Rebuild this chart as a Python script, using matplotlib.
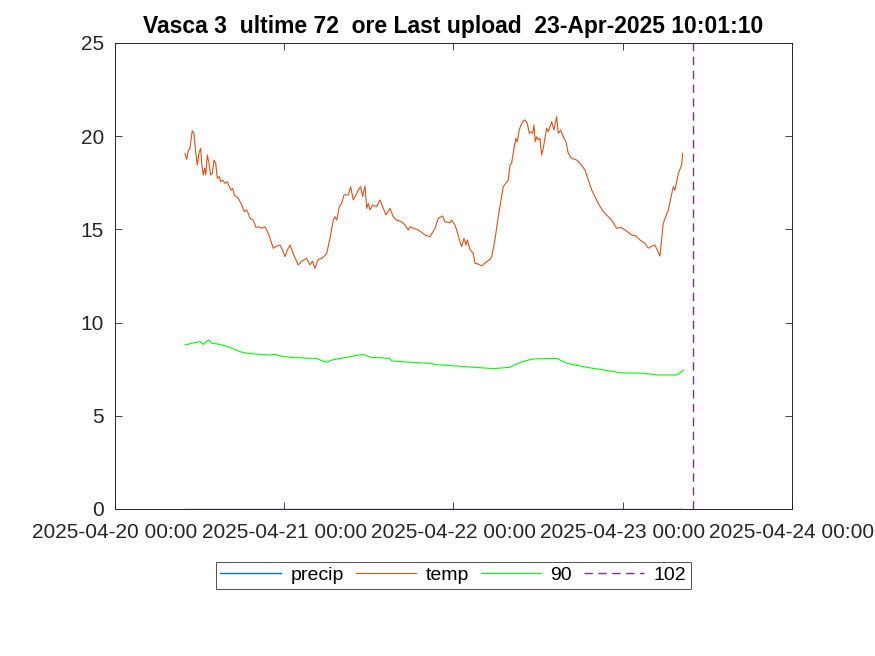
import numpy as np
import pandas as pd
import matplotlib
matplotlib.use('Agg')
from matplotlib import pyplot as plt
import matplotlib.dates as mdates

# ore dall'inizio del 2025-04-20 00:00
start = pd.Timestamp('2025-04-20 00:00')
upload = pd.Timestamp('2025-04-23 10:01:10')

temp_h = [9.93, 10.17, 10.39, 10.64, 10.96, 11.2, 11.44, 11.67, 11.91, 12.15, 12.34, 12.52,
          12.72, 12.86, 13.09, 13.33, 13.57, 13.8, 14.04, 14.28, 14.51, 14.79, 14.99, 15.27,
          15.6, 15.92, 16.21, 16.45, 16.69, 16.92, 17.16, 17.48, 17.97, 18.33, 18.68, 18.9,
          19.14, 19.61, 19.99, 20.46, 20.8, 21.27, 21.74, 22.45, 22.93, 23.4, 23.75, 24.11,
          24.46, 24.82, 25.38, 25.99, 26.52, 27.18, 27.65, 28.01, 28.36, 28.83, 29.36, 30.02,
          30.49, 30.96, 31.2, 31.44, 31.81, 32.15, 32.47, 33.08, 33.42, 33.79, 34.17, 34.5,
          34.84, 35.12, 35.45, 35.69, 35.92, 36.16, 36.54, 37.11, 37.58, 37.96, 38.43, 38.99,
          39.46, 39.94, 40.65, 41.12, 41.59, 41.83, 42.3, 43.01, 43.96, 44.67, 45.38, 45.85,
          46.47, 46.79, 47.5, 47.74, 48.21, 48.45, 48.92, 49.16, 49.49, 49.77, 49.96, 50.34,
          50.81, 51.05, 51.52, 52.0, 52.71, 53.18, 53.42, 53.88, 54.35, 54.59, 55.06, 55.77,
          56.01, 56.25, 56.58, 56.86, 57.05, 57.33, 57.57, 57.9, 58.14, 58.47, 58.75, 58.99,
          59.23, 59.41, 59.6, 59.8, 60.02, 60.26, 60.5, 60.73, 60.97, 61.21, 61.44, 61.92,
          62.25, 62.63, 62.86, 63.2, 63.57, 63.95, 64.28, 64.76, 65.47, 65.94, 66.65, 67.6,
          68.53, 69.24, 70.43, 71.14, 71.75, 72.32, 73.27, 73.88, 74.45, 75.16, 75.63, 76.16,
          76.57, 77.0, 77.28, 77.75, 78.46, 79.17, 79.41, 79.88, 80.36, 80.5]
temp = [19.08, 18.76, 19.22, 19.35, 20.29, 20.15, 19.17, 18.45, 19.08, 19.35, 18.37, 17.92,
        18.28, 17.92, 18.99, 18.55, 17.92, 18.0, 18.72, 18.55, 17.74, 17.83, 17.56, 17.65,
        17.47, 17.56, 17.29, 17.11, 17.2, 16.85, 16.76, 16.67, 16.31, 15.95, 16.04, 15.86,
        15.6, 15.5, 15.11, 15.14, 15.06, 15.14, 14.79, 13.99, 14.1, 14.16, 13.9, 13.54,
        13.9, 14.16, 13.6, 13.09, 13.3, 13.45, 13.1, 13.3, 12.91, 13.39, 13.45, 13.7,
        14.52, 15.5, 15.68, 15.5, 16.22, 16.4, 16.85, 16.85, 17.29, 16.58, 16.85, 17.11,
        17.29, 16.76, 17.33, 16.13, 16.4, 16.04, 16.31, 16.22, 16.58, 16.22, 15.77, 16.13,
        15.68, 15.5, 15.41, 15.24, 14.97, 15.14, 15.06, 14.97, 14.7, 14.61, 15.06, 15.6,
        15.72, 15.41, 15.36, 15.5, 15.24, 14.97, 14.34, 14.07, 14.52, 14.16, 14.43, 13.9,
        13.72, 13.18, 13.14, 13.04, 13.27, 13.39, 13.54, 14.43, 15.68, 16.22, 17.29, 17.65,
        18.45, 18.55, 19.35, 19.88, 19.7, 20.33, 20.6, 20.82, 20.87, 20.69, 20.15, 20.24,
        20.15, 20.6, 19.7, 19.97, 19.8, 19.88, 18.99, 19.35, 19.88, 20.42, 20.24, 20.78,
        20.33, 21.05, 20.15, 20.33, 19.97, 19.7, 19.08, 18.81, 18.72, 18.55, 18.19, 17.11,
        16.4, 15.95, 15.5, 15.06, 15.1, 14.97, 14.7, 14.65, 14.43, 14.25, 13.99, 14.1,
        14.16, 13.8, 13.57, 15.33, 16.04, 17.29, 17.1, 18.0, 18.45, 19.08]

s90_h = [9.93, 10.88, 12.05, 12.52, 13.23, 13.71, 14.89, 16.31, 17.73, 18.2, 19.61, 21.98,
         22.69, 23.4, 25.28, 28.6, 29.31, 30.02, 30.73, 33.32, 35.21, 36.16, 38.99, 39.23,
         42.78, 44.67, 45.62, 49.87, 53.64, 56.01, 57.67, 59.32, 62.63, 64.05, 66.89, 69.24,
         71.6, 74.91, 76.81, 79.65, 80.36, 80.59]
s90 = [8.80, 8.89, 8.98, 8.83, 9.07, 8.89, 8.83, 8.67, 8.44, 8.39, 8.32, 8.26,
       8.30, 8.21, 8.12, 8.07, 7.96, 7.87, 7.99, 8.17, 8.30, 8.14, 8.08, 7.94,
       7.85, 7.82, 7.74, 7.63, 7.53, 7.60, 7.90, 8.05, 8.08, 7.82, 7.60, 7.46,
       7.31, 7.28, 7.19, 7.19, 7.37, 7.46]

precip_h = [9.93, 80.5]
precip = [0, 0]


def to_time(hours):
    return start + pd.to_timedelta(np.array(hours), unit='h')


plt.rcParams['font.family'] = ['Liberation Sans', 'DejaVu Sans']
grey = '#262626'

fig = plt.figure(figsize=(8.75, 6.56), dpi=100)
ax = fig.add_axes([0.1314, 0.2241, 0.7737, 0.7104])

ax.plot(to_time(precip_h), precip, color=(0, 0.447, 0.741), lw=1, label='precip')
ax.plot(to_time(temp_h), temp, color=(0.85, 0.325, 0.098), lw=0.8, label='temp')
ax.plot(to_time(s90_h), s90, color=(0, 1, 0), lw=0.8, label='90')
ax.plot([upload, upload], [0, 25], color=(0.494, 0.184, 0.556), lw=1, ls=(0, (6, 4)), label='102')

ax.set_xlim(start, start + pd.Timedelta(days=4))
ax.set_ylim(0, 25)
ax.set_yticks([0, 5, 10, 15, 20, 25])
ax.xaxis.set_major_locator(mdates.DayLocator())
ax.xaxis.set_major_formatter(mdates.DateFormatter('%Y-%m-%d %H:%M'))

ax.tick_params(direction='in', top=True, right=True, length=5, width=0.6,
               labelsize=15, colors=grey, labelcolor=grey)
ax.tick_params(axis='x', pad=10)
ax.tick_params(axis='y', pad=8)
for sp in ax.spines.values():
    sp.set_color(grey)
    sp.set_linewidth(0.7)

ax.set_title('Vasca 3  ultime 72  ore Last upload  23-Apr-2025 10:01:10',
             fontsize=16.5, fontweight='bold', color='black', pad=7)

leg = ax.legend(loc='upper center', bbox_to_anchor=(0.5, -0.113), ncol=4, frameon=True,
                fancybox=False, edgecolor=grey, fontsize=14, handlelength=3.1,
                columnspacing=0.6, handletextpad=0.5, borderpad=0.25, borderaxespad=0)
leg.get_frame().set_linewidth(0.7)

fig.savefig('out.png', dpi=100, facecolor='white')
